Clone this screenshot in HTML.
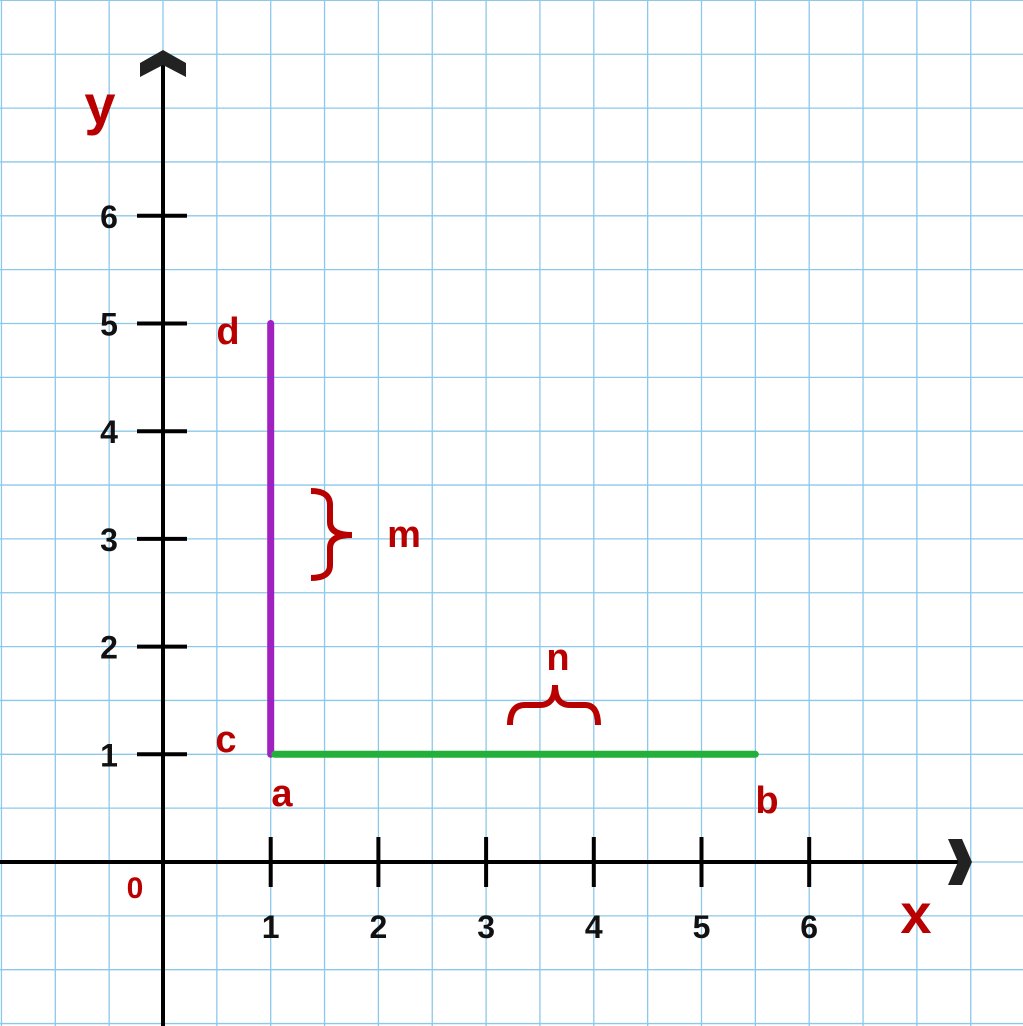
<!DOCTYPE html>
<html><head><meta charset="utf-8"><style>
html,body{margin:0;padding:0;background:#fff;}
svg{display:block;}
text{font-family:"Liberation Sans","DejaVu Sans",sans-serif;font-weight:bold;}
</style></head><body>
<svg id="chart" width="1023" height="1026" viewBox="0 0 1023 1026" xmlns="http://www.w3.org/2000/svg">
<g id="grid"></g>
<g id="axes"></g>
<g id="marks"></g>
<g id="labels"></g>
</svg>
<script>
const xTicks = [1,2,3,4,5,6];
const yTicks = [1,2,3,4,5,6];
const segA = [1,1];
const segB = [5.5,1];
const segD = [1,5];
const ox = 163, oy = 862, unit = 107.7;
function X(v){return ox + v*unit;}
function Y(v){return oy - v*unit;}
const NS = 'http://www.w3.org/2000/svg';
function mk(tag, attrs, parent){const e=document.createElementNS(NS,tag);for(const k in attrs)e.setAttribute(k,attrs[k]);parent.appendChild(e);return e;}
const grid=document.getElementById('grid'), axes=document.getElementById('axes'), marks=document.getElementById('marks'), labels=document.getElementById('labels');
for(let k=-4;k<=17;k++){
  const x=ox+k*unit/2;
  if(x>=-2&&x<=1025){const l=mk('line',{x1:x,y1:0,x2:x,y2:1026,stroke:'#8cc8ea','stroke-width':1.3},grid);
  
  }
  const y=oy-k*unit/2;
  if(y>=-2&&y<=1028){const l=mk('line',{x1:0,y1:y,x2:1023,y2:y,stroke:'#8cc8ea','stroke-width':1.3},grid);
  
  }
}
let a=mk('line',{x1:0,y1:oy,x2:962,y2:oy,stroke:'#000','stroke-width':4},axes);


a=mk('line',{x1:ox,y1:62,x2:ox,y2:1026,stroke:'#000','stroke-width':4},axes);


a=mk('polygon',{points:`140,77 ${ox},65 186,77 186,63 ${ox},50 140,63`,fill:'#222'},axes);


a=mk('polygon',{points:`948,${oy-23} 962,${oy-23} 972,${oy} 962,${oy+23} 948,${oy+23} 958,${oy}`,fill:'#222'},axes);


xTicks.forEach(v=>{
  const t=mk('line',{x1:X(v),y1:oy-25,x2:X(v),y2:oy+25,stroke:'#000','stroke-width':4},axes);
  
  
  const s=mk('text',{x:X(v),y:938,'text-anchor':'middle','font-size':32,fill:'#111'},labels);
  s.textContent=v;
  
  
});
yTicks.forEach(v=>{
  const t=mk('line',{x1:ox-26,y1:Y(v),x2:ox+24,y2:Y(v),stroke:'#000','stroke-width':4},axes);
  
  
  const s=mk('text',{x:109,y:Y(v)+12,'text-anchor':'middle','font-size':32,fill:'#111'},labels);
  s.textContent=v;
  
  
});
let m=mk('line',{x1:X(segA[0]),y1:Y(segA[1]),x2:X(segD[0]),y2:Y(segD[1]),stroke:'#a020c0','stroke-width':7,'stroke-linecap':'round'},marks);


m=mk('line',{x1:X(segA[0])+4,y1:Y(segA[1]),x2:X(segB[0]),y2:Y(segB[1]),stroke:'#22b03a','stroke-width':7,'stroke-linecap':'round'},marks);


const red='#b80000';
m=mk('path',{d:'M311,491 Q330,491 330,505 L330,522 Q330,535 352,535 Q330,535 330,548 L330,565 Q330,578 311,578',fill:'none',stroke:red,'stroke-width':6},labels);


m=mk('path',{d:'M510,725 Q510,705 525,705 L540,705 Q555,705 555,685 Q555,705 570,705 L585,705 Q598,705 598,725',fill:'none',stroke:red,'stroke-width':6},labels);


const lbls=[['y',100,124,56,'axis-title-y'],['x',916,933,56,'axis-title-x'],['d',228,344,38,'point-label-d'],['c',226,752,38,'point-label-c'],['a',282,806,38,'point-label-a'],['b',767,813,38,'point-label-b'],['m',404,547,38,'label-m'],['n',558,670,38,'label-n'],['0',135,898,30,'origin-label']];
lbls.forEach(([t,x,y,fs,n])=>{
  const s=mk('text',{x:x,y:y,'text-anchor':'middle','font-size':fs,fill:red},labels);
  s.textContent=t;
  
  
});
</script>
</body></html>
